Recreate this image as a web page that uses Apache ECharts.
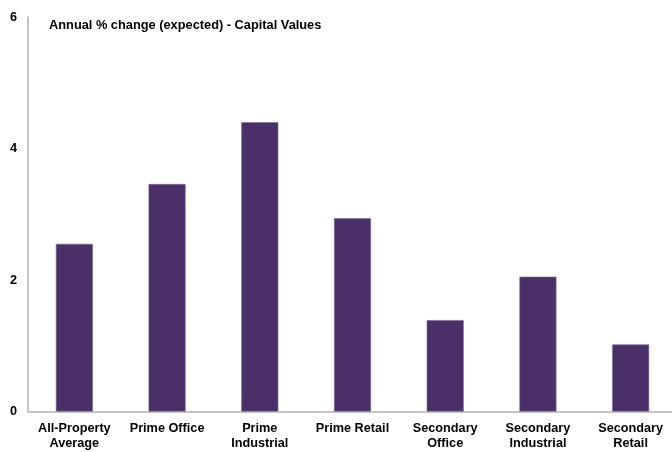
<!DOCTYPE html>
<html>
<head>
<meta charset="utf-8">
<script src="https://cdn.jsdelivr.net/npm/echarts@6/dist/echarts.min.js"></script>
<style>
html,body{margin:0;padding:0;background:#fff;}
#chart{width:672px;height:452px;}
</style>
</head>
<body>
<div id="chart"></div>
<script>
var categories = ['All-Property\nAverage', 'Prime Office', 'Prime\nIndustrial', 'Prime Retail', 'Secondary\nOffice', 'Secondary\nIndustrial', 'Secondary\nRetail'];
var values = [2.55, 3.46, 4.40, 2.94, 1.39, 2.05, 1.02];
var yTicks = [0, 2, 4, 6];
var titleText = 'Annual % change (expected) - Capital Values';

var chart = echarts.init(document.getElementById('chart'));
chart.setOption({
  animation: false,
  backgroundColor: '#ffffff',
  title: {
    text: titleText,
    left: 44,
    top: 14,
    textStyle: {fontFamily: 'Liberation Sans, Arial, sans-serif', fontSize: 12.8, fontWeight: 'bold', color: '#000'}
  },
  grid: {left: 28, width: 649, top: 17, bottom: 40.5, containLabel: false, outerBoundsMode: 'none'},
  xAxis: {
    type: 'category',
    data: categories,
    axisLine: {show: true, lineStyle: {color: '#b3b3b3', width: 1.5}},
    axisTick: {show: false},
    axisLabel: {
      interval: 0,
      margin: 10,
      fontFamily: 'Liberation Sans, Arial, sans-serif',
      fontSize: 12.7,
      fontWeight: 'bold',
      color: '#000',
      lineHeight: 14.5
    }
  },
  yAxis: {
    type: 'value',
    min: yTicks[0],
    max: yTicks[yTicks.length - 1],
    interval: 2,
    splitLine: {show: false},
    axisLine: {show: true, lineStyle: {color: '#b3b3b3', width: 1.5}},
    axisTick: {show: false},
    axisLabel: {
      margin: 11,
      fontFamily: 'Liberation Sans, Arial, sans-serif',
      fontSize: 12.7,
      fontWeight: 'bold',
      color: '#000'
    }
  },
  series: [{
    type: 'bar',
    data: values,
    barWidth: 37,
    itemStyle: {color: '#4b2f68', borderColor: '#7d6a95', borderWidth: 0.6}
  }]
});
</script>
</body>
</html>
